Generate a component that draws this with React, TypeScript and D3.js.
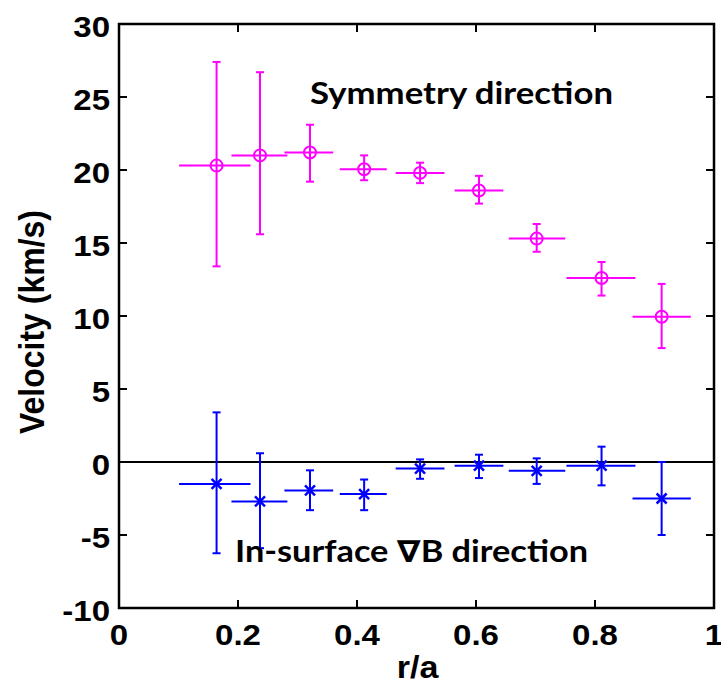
import React from "react";
import * as d3 from "d3";

// ---- data ----
const rPos = [0.164, 0.237, 0.321, 0.412, 0.506, 0.605, 0.702, 0.811, 0.912];
const rLo = [0.101, 0.189, 0.278, 0.371, 0.465, 0.564, 0.655, 0.752, 0.863];
const rHi = [0.221, 0.283, 0.36, 0.45, 0.547, 0.646, 0.75, 0.868, 0.961];

const symV = [20.3, 21.0, 21.2, 20.05, 19.8, 18.6, 15.3, 12.6, 9.95];
const symLo = [13.4, 15.6, 19.2, 19.3, 19.1, 17.7, 14.4, 11.4, 7.8];
const symHi = [27.4, 26.7, 23.1, 21.0, 20.5, 19.6, 16.3, 13.7, 12.2];

const gradV = [-1.5, -2.7, -1.95, -2.2, -0.45, -0.25, -0.6, -0.25, -2.5];
const gradLo = [-6.25, -5.9, -3.3, -3.3, -1.15, -1.1, -1.5, -1.6, -5.0];
const gradHi = [3.4, 0.6, -0.57, -1.2, 0.18, 0.5, 0.25, 1.05, 0.0];

const xTicks = [0, 0.2, 0.4, 0.6, 0.8, 1];
const xTickLabels = ["0", "0.2", "0.4", "0.6", "0.8", "1"];
const yTicks = [-10, -5, 0, 5, 10, 15, 20, 25, 30];
const yTickLabels = ["-10", "-5", "0", "5", "10", "15", "20", "25", "30"];

const xLabel = "r/a";
const yLabel = "Velocity (km/s)";
const symLabel = "Symmetry direction";
const gradLabel = "In-surface \u2207B direction";

const W = 721;
const H = 683;
const L = 119, R = 714, T = 24, B = 608;

const SX = 1.1;
const tickFont = "'Liberation Sans', Arial, sans-serif";
const noteFont = "Lato, 'Open Sans', 'DejaVu Sans', sans-serif";

export default function App() {
  const x = d3.scaleLinear().domain([0, 1]).range([L, R]);
  const y = d3.scaleLinear().domain([-10, 30]).range([B, T]);
  const cap = 4;
  const tick = 8;

  const series = [
    { v: symV, lo: symLo, hi: symHi, color: "#ff00ff", marker: "o" },
    { v: gradV, lo: gradLo, hi: gradHi, color: "#0000ff", marker: "x" },
  ];

  return (
    <svg width={W} height={H} style={{ position: "absolute", left: 0, top: 0, background: "#fff" }}>
      <rect x={0} y={0} width={W} height={H} fill="#fff" />
      {/* zero line */}
      <line x1={L} x2={R} y1={y(0)} y2={y(0)} stroke="#000" strokeWidth={2} />

      {series.map((s, si) => (
        <g key={si} stroke={s.color} strokeWidth={2} fill="none">
          {rPos.map((r, i) => {
            const cx = x(r), cy = y(s.v[i]);
            const yl = y(s.lo[i]), yh = y(s.hi[i]);
            return (
              <g key={i}>
                <line x1={cx} x2={cx} y1={yl} y2={yh} />
                <line x1={cx - cap} x2={cx + cap} y1={yl} y2={yl} />
                <line x1={cx - cap} x2={cx + cap} y1={yh} y2={yh} />
                <line x1={x(rLo[i])} x2={x(rHi[i])} y1={cy} y2={cy} />
                {s.marker === "o" ? (
                  <circle cx={cx} cy={cy} r={6} />
                ) : (
                  <g strokeWidth={2.5}>
                    <line x1={cx - 5} x2={cx + 5} y1={cy - 5} y2={cy + 5} />
                    <line x1={cx - 5} x2={cx + 5} y1={cy + 5} y2={cy - 5} />
                  </g>
                )}
              </g>
            );
          })}
        </g>
      ))}

      {/* frame */}
      <rect x={L} y={T} width={R - L} height={B - T} fill="none" stroke="#000" strokeWidth={2.5} />
      {xTicks.map((t, i) => (
        <g key={"xt" + i} stroke="#000" strokeWidth={2}>
          <line x1={x(t)} x2={x(t)} y1={B} y2={B - tick} />
          <line x1={x(t)} x2={x(t)} y1={T} y2={T + tick} />
        </g>
      ))}
      {yTicks.map((t, i) => (
        <g key={"yt" + i} stroke="#000" strokeWidth={2}>
          <line x1={L} x2={L + tick} y1={y(t)} y2={y(t)} />
          <line x1={R} x2={R - tick} y1={y(t)} y2={y(t)} />
        </g>
      ))}

      {/* tick labels */}
      <g fontFamily={tickFont} fontWeight="bold" fontSize={30} fill="#000">
        {xTicks.map((t, i) => (
          <text key={"xl" + i} transform={`translate(${x(t)},${B + 37}) scale(${SX},1)`} textAnchor="middle">
            {xTickLabels[i]}
          </text>
        ))}
        {yTicks.map((t, i) => (
          <text key={"yl" + i} transform={`translate(${L - 9},${y(t) + 13}) scale(${SX},1)`} textAnchor="end">
            {yTickLabels[i]}
          </text>
        ))}
        <text transform={`translate(${(L + R) / 2 + 1},${H - 5}) scale(${SX},1)`} textAnchor="middle" fontSize={31}>
          {xLabel}
        </text>
        <text transform={`translate(44,${(T + B) / 2 + 6}) scale(${SX},1) rotate(-90)`} textAnchor="middle" fontSize={32}>
          {yLabel}
        </text>
      </g>

      {/* annotations */}
      <g fontFamily={noteFont} fontWeight="bold" fontSize={30} fill="#000">
        <text x={310} y={104} textLength={303} lengthAdjust="spacingAndGlyphs">{symLabel}</text>
        <text x={235} y={562} textLength={353} lengthAdjust="spacingAndGlyphs">{gradLabel}</text>
      </g>
    </svg>
  );
}
